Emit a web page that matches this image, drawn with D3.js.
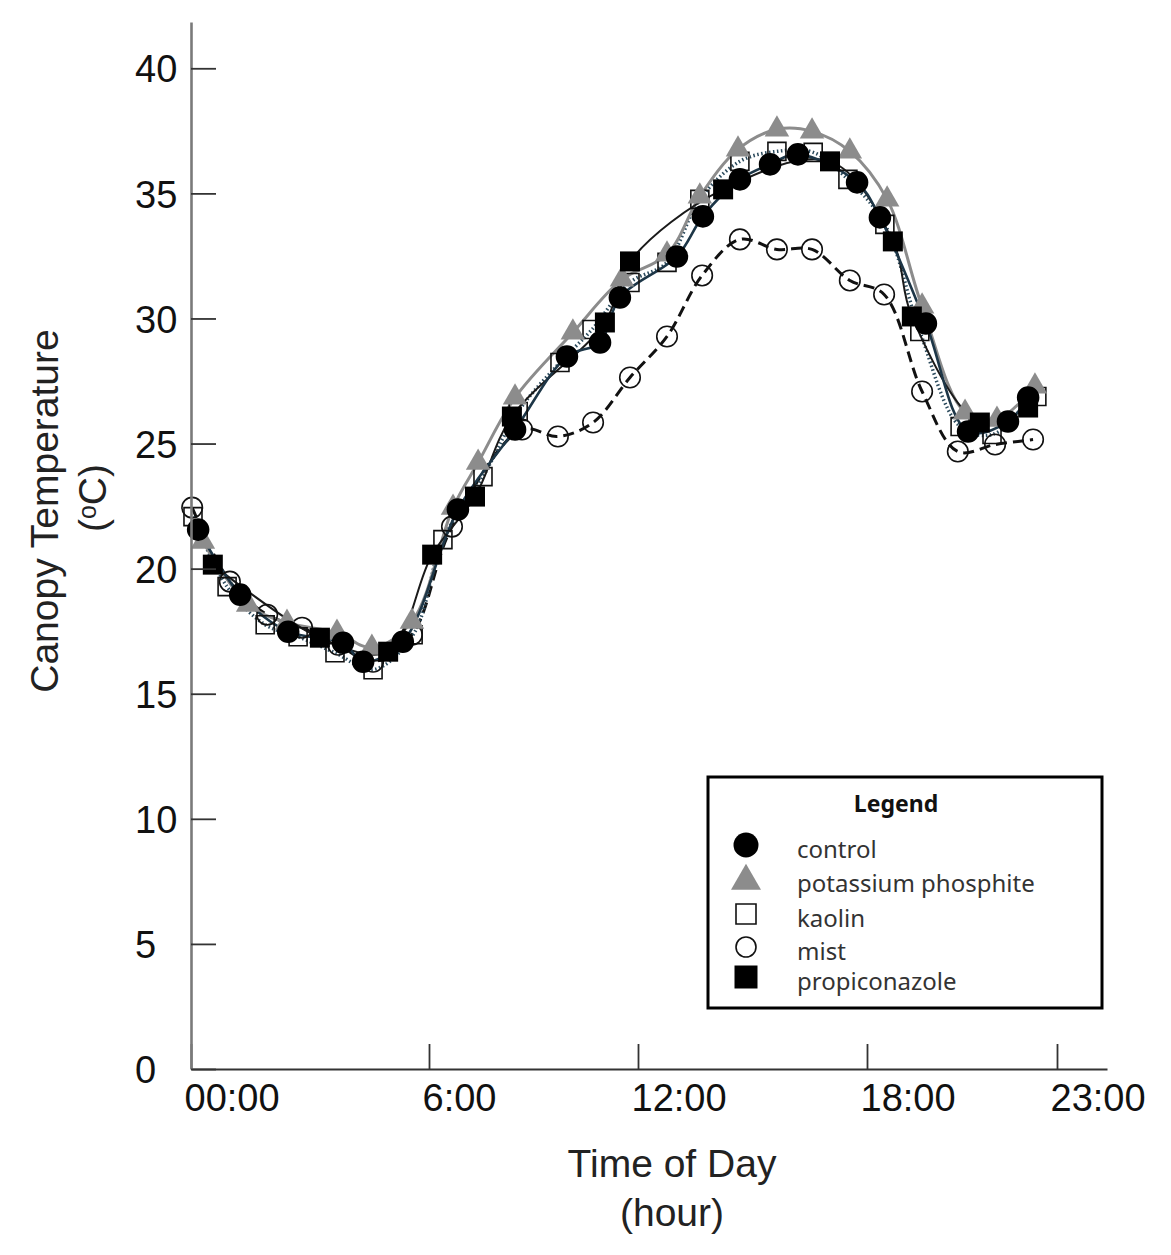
<!DOCTYPE html>
<html>
<head>
<meta charset="utf-8">
<script src="https://cdn.jsdelivr.net/npm/d3@7"></script>
<style>
  body { margin: 0; background: #fff; }
  svg { display: block; }
</style>
</head>
<body>
<div id="chart"></div>
<script>
// Tick positions (hours) and labels for the time axis
var hourTicks = [0, 6, 12, 18, 23];
var hourLabels = ["00:00", "6:00", "12:00", "18:00", "23:00"];
var tempTicks = [0, 5, 10, 15, 20, 25, 30, 35, 40];

// [hour, canopy temperature °C]
var control = [[0.18,21.56],[1.24,18.96],[2.45,17.48],[3.83,17.04],[4.34,16.28],[5.34,17.08],
  [6.83,22.36],[8.47,25.56],[9.96,28.48],[10.91,29.04],[11.48,30.84],[13.02,32.48],[13.70,34.08],
  [14.67,35.56],[15.46,36.16],[16.19,36.56],[17.74,35.44],[18.34,34.04],[19.55,29.8],[20.66,25.48],
  [21.71,25.88],[22.24,26.84]];
var phosphite = [[0.30,21.08],[1.44,18.56],[2.42,17.84],[3.68,17.44],[4.56,16.84],[5.57,17.88],
  [6.69,22.44],[7.41,24.24],[8.47,26.84],[10.13,29.44],[11.54,31.56],[12.76,32.56],[13.62,34.88],
  [14.62,36.76],[15.64,37.56],[16.56,37.48],[17.55,36.68],[18.53,34.76],[19.45,30.48],[20.58,26.24],
  [21.42,25.96],[22.42,27.28]];
var kaolin = [[0.05,22.08],[0.91,19.28],[1.87,17.76],[2.70,17.28],[3.63,16.64],[4.59,15.96],
  [5.60,17.36],[6.40,21.16],[7.55,23.68],[8.56,26.28],[9.76,28.24],[10.68,29.56],[11.77,31.44],
  [12.76,32.24],[13.62,34.76],[14.67,36.28],[15.64,36.68],[16.59,36.64],[17.50,35.56],[18.47,33.76],
  [19.39,29.48],[20.45,25.68],[21.29,25.36],[22.47,26.88]];
var mist = [[0.03,22.44],[0.98,19.48],[1.92,18.16],[2.80,17.64],[3.71,16.96],[4.59,16.28],
  [5.57,17.36],[6.66,21.68],[8.67,25.56],[9.70,25.28],[10.71,25.84],[11.77,27.64],[12.76,29.28],
  [13.68,31.72],[14.67,33.16],[15.64,32.76],[16.56,32.76],[17.55,31.52],[18.45,30.96],[19.45,27.08],
  [20.39,24.68],[21.37,24.96],[22.37,25.16]];
var propiconazole = [[0.55,20.16],[3.25,17.24],[4.97,16.68],[6.09,20.56],[7.32,22.88],[8.38,26.08],
  [11.05,29.84],[11.77,32.28],[14.23,35.16],[17.03,36.28],[18.68,33.08],[19.18,30.08],[20.97,25.84],
  [22.24,26.44]];

var seriesNames = ["control", "potassium phosphite", "kaolin", "mist", "propiconazole"];

var W = 1171, H = 1255;
var svg = d3.select("#chart").append("svg")
  .attr("width", W).attr("height", H)
  .style("font-family", "'Liberation Sans', Arial, sans-serif");

// hand-drawn axis in the source is not evenly spaced, so use a piecewise scale
var x = d3.scaleLinear()
  .domain([0, 6, 12, 18, 23, 24.3])
  .range([191, 429, 638, 867, 1057, 1107]);
var y = d3.scaleLinear().domain([0, 41.85]).range([1069, 22]);

var series = [
  { name: "mist", data: mist, symbol: d3.symbolCircle, size: 330, fill: "none", stroke: "#111", sw: 1.6,
    line: "#111", lw: 3, dash: "11,6" },
  { name: "kaolin", data: kaolin, symbol: d3.symbolSquare, size: 324, fill: "none", stroke: "#111", sw: 1.6,
    line: "#2b4a5c", lw: 3.5, dash: "1.5,2.5" },
  { name: "potassium phosphite", data: phosphite, symbol: d3.symbolTriangle, size: 260, fill: "#8c8c8c", stroke: "none", sw: 0,
    line: "#8c8c8c", lw: 3, dash: null },
  { name: "propiconazole", data: propiconazole, symbol: d3.symbolSquare, size: 400, fill: "#000", stroke: "none", sw: 0,
    line: "#1a1a1a", lw: 2, dash: null },
  { name: "control", data: control, symbol: d3.symbolCircle, size: 400, fill: "#000", stroke: "none", sw: 0,
    line: "#1d3647", lw: 2.6, dash: null }
];

var line = d3.line()
  .x(function(d) { return x(d[0]); })
  .y(function(d) { return y(d[1]); })
  .curve(d3.curveCatmullRom.alpha(0.5));

// Lines
svg.append("g").selectAll("path")
  .data(series)
  .enter().append("path")
  .attr("d", function(s) { return line(s.data); })
  .attr("fill", "none")
  .attr("stroke", function(s) { return s.line; })
  .attr("stroke-width", function(s) { return s.lw; })
  .attr("stroke-dasharray", function(s) { return s.dash; });

// Markers
series.forEach(function(s) {
  svg.append("g").selectAll("path")
    .data(s.data)
    .enter().append("path")
    .attr("transform", function(d) { return "translate(" + x(d[0]) + "," + y(d[1]) + ")"; })
    .attr("d", d3.symbol().type(s.symbol).size(s.size))
    .attr("fill", s.fill)
    .attr("stroke", s.stroke)
    .attr("stroke-width", s.sw);
});

// X axis
var xAxis = svg.append("g")
  .attr("transform", "translate(0,1069)")
  .call(d3.axisBottom(x).tickValues(hourTicks)
    .tickFormat(function(d, i) { return hourLabels[i]; })
    .tickSize(-25).tickSizeOuter(0));
xAxis.select(".domain").attr("stroke", "#333").attr("stroke-width", 2);
xAxis.selectAll(".tick line").attr("stroke", "#333").attr("stroke-width", 1.8);
xAxis.selectAll(".tick text")
  .attr("y", 42).attr("dy", 0).attr("dx", -7)
  .attr("text-anchor", "start")
  .attr("fill", "#111")
  .style("font-size", "38px")
  .style("font-family", "'Liberation Sans', Arial, sans-serif");

// Y axis
var yAxis = svg.append("g")
  .attr("transform", "translate(191,0)")
  .call(d3.axisLeft(y).tickValues(tempTicks).tickSize(-25).tickSizeOuter(0));
yAxis.select(".domain").attr("stroke", "#7a7a7a").attr("stroke-width", 2.6);
yAxis.selectAll(".tick line").attr("stroke", "#333").attr("stroke-width", 1.8);
yAxis.selectAll(".tick text")
  .attr("x", -56).attr("dy", "0.36em")
  .attr("text-anchor", "start")
  .attr("fill", "#111")
  .style("font-size", "38px")
  .style("font-family", "'Liberation Sans', Arial, sans-serif");

// Axis titles
var yt = svg.append("g").attr("fill", "#222").style("font-size", "39px");
yt.append("text")
  .attr("transform", "translate(58,511) rotate(-90)")
  .attr("text-anchor", "middle")
  .text("Canopy Temperature");
var unit = yt.append("text")
  .attr("transform", "translate(106,498) rotate(-90)")
  .attr("text-anchor", "middle");
unit.append("tspan").text("(");
unit.append("tspan").attr("font-size", "25px").attr("baseline-shift", "40%").text("o");
unit.append("tspan").text("C)");

var xt = svg.append("g").attr("fill", "#222").style("font-size", "39px").attr("text-anchor", "middle");
xt.append("text").attr("x", 672).attr("y", 1177).text("Time of Day");
xt.append("text").attr("x", 672).attr("y", 1226).text("(hour)");

// Legend
var legendItems = [
  { label: seriesNames[0], symbol: d3.symbolCircle, size: 491, fill: "#000", stroke: "none" },
  { label: seriesNames[1], symbol: d3.symbolTriangle, size: 390, fill: "#8c8c8c", stroke: "none" },
  { label: seriesNames[2], symbol: d3.symbolSquare, size: 400, fill: "none", stroke: "#111" },
  { label: seriesNames[3], symbol: d3.symbolCircle, size: 314, fill: "none", stroke: "#111" },
  { label: seriesNames[4], symbol: d3.symbolSquare, size: 529, fill: "#000", stroke: "none" }
];
var rowY = [845, 881, 914, 947, 977];
var rowBase = [858, 892, 927, 960, 990];

var legend = svg.append("g");
legend.append("rect")
  .attr("x", 708).attr("y", 777).attr("width", 394).attr("height", 231)
  .attr("fill", "#fff").attr("stroke", "#000").attr("stroke-width", 3);
legend.append("text")
  .attr("x", 896).attr("y", 812)
  .attr("text-anchor", "middle")
  .style("font-family", "'Noto Sans', sans-serif")
  .style("font-weight", "bold").style("font-size", "23px")
  .attr("fill", "#111")
  .text("Legend");
legendItems.forEach(function(it, i) {
  legend.append("path")
    .attr("transform", "translate(746," + rowY[i] + ")")
    .attr("d", d3.symbol().type(it.symbol).size(it.size))
    .attr("fill", it.fill).attr("stroke", it.stroke).attr("stroke-width", 1.6);
  legend.append("text")
    .attr("x", 797).attr("y", rowBase[i])
    .style("font-family", "'Noto Sans', sans-serif")
    .style("font-size", "24px")
    .attr("fill", "#333")
    .text(it.label);
});
</script>
</body>
</html>
